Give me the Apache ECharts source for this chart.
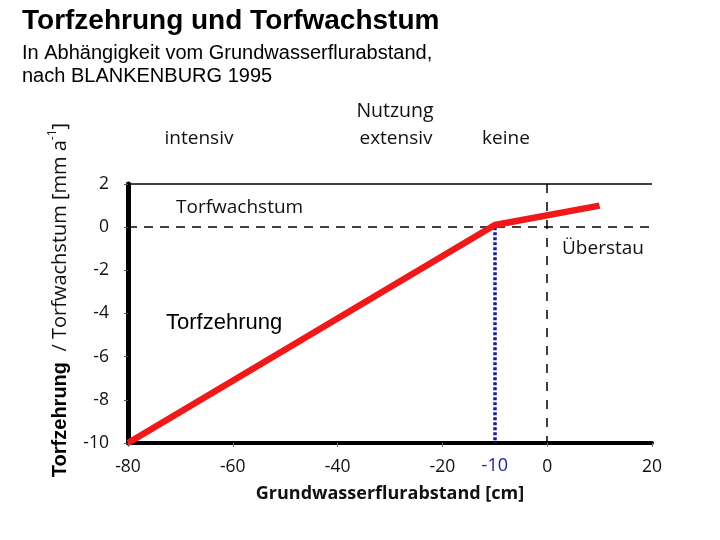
<!DOCTYPE html>
<html><head><meta charset="utf-8">
<script src="https://cdn.jsdelivr.net/npm/echarts@6/dist/echarts.min.js"></script>
<style>html,body{margin:0;padding:0;background:#fff}#c{width:720px;height:540px}</style>
</head><body><div id="c"></div>
<script>
// ---- data ----
const xRange = [-80, 20];
const yRange = [-10, 2];
const xInterval = 20;
const yInterval = 2;
const curveX = [-80, -10, 10];
const curveY = [-10, 0.1, 1];
const markerX = -10;          // blue dotted reference at -10 cm
const zeroLevel = 0;          // dashed horizontal at 0 mm/a
const topLevel = 2;           // solid horizontal at 2 mm/a
const surfaceX = 0;           // dashed vertical at 0 cm

const titleText = 'Torfzehrung und Torfwachstum';
const subLines = ['In Abhängigkeit vom Grundwasserflurabstand,', 'nach BLANKENBURG 1995'];
const xName = 'Grundwasserflurabstand [cm]';

const chart = echarts.init(document.getElementById('c'), null, {renderer: 'canvas'});
const sans = 'Open Sans';
const arial = 'Liberation Sans';

const option = {
  backgroundColor: '#fff',
  animation: false,
  grid: {left: 128, right: 68, top: 184, bottom: 97},
  xAxis: {
    type: 'value', min: xRange[0], max: xRange[1], interval: xInterval,
    axisLine: {show: true, onZero: false, lineStyle: {color: '#000', width: 4}},
    axisTick: {show: true, length: 4, lineStyle: {color: '#777', width: 1}},
    splitLine: {show: false},
    axisLabel: {margin: 15, fontSize: 17.5, fontFamily: sans, color: '#111'},
    name: xName, nameLocation: 'middle', nameGap: 42,
    nameTextStyle: {fontSize: 18, fontWeight: 'bold', fontFamily: sans, color: '#111'}
  },
  yAxis: {
    type: 'value', min: yRange[0], max: yRange[1], interval: yInterval,
    axisLine: {show: true, onZero: false, lineStyle: {color: '#000', width: 5}},
    axisTick: {show: true, length: 4, lineStyle: {color: '#555', width: 1}},
    splitLine: {show: false},
    axisLabel: {margin: 19, fontSize: 17.5, fontFamily: sans, color: '#111'}
  },
  series: [
    {
      type: 'line',
      data: curveX.map((x, i) => [x, curveY[i]]),
      symbol: 'none',
      lineStyle: {color: '#f01818', width: 6.5},
      z: 5,
      markLine: {
        silent: true, symbol: ['none', 'none'], animation: false,
        data: [
          [{coord: [xRange[0], topLevel], lineStyle: {color: '#000', width: 1.5, type: 'solid'}}, {coord: [xRange[1], topLevel]}],
          [{coord: [xRange[0], zeroLevel], lineStyle: {color: '#000', width: 1.5, type: [9, 7]}}, {coord: [xRange[1], zeroLevel]}],
          [{coord: [surfaceX, topLevel], lineStyle: {color: '#000', width: 1.5, type: [9, 9]}}, {coord: [surfaceX, yRange[0]]}],
          [{coord: [markerX, zeroLevel], lineStyle: {color: '#1a1aa8', width: 3.5, type: [3, 2]},
            label: {show: true, position: 'end', distance: 14, formatter: String(markerX), color: '#1a1aa8', fontSize: 18, fontFamily: sans}},
           {coord: [markerX, yRange[0]]}]
        ],
        label: {show: false}
      }
    }
  ],
  graphic: [
    {type: 'text', left: 22, top: 7, style: {text: titleText, font: 'bold 28px "Liberation Sans"', fill: '#000'}},
    {type: 'text', left: 22, top: 43, style: {text: subLines[0], font: '20px "Liberation Sans"', fill: '#000'}},
    {type: 'text', left: 22, top: 66, style: {text: subLines[1], font: '20px "Liberation Sans"', fill: '#000'}},
    {type: 'text', x: 395, y: 111, style: {text: 'Nutzung', font: '19.5px "Open Sans"', fill: '#111', textAlign: 'center', textVerticalAlign: 'middle'}},
    {type: 'text', x: 199, y: 139, style: {text: 'intensiv', font: '19px "Open Sans"', fill: '#111', textAlign: 'center', textVerticalAlign: 'middle'}},
    {type: 'text', x: 396, y: 139, style: {text: 'extensiv', font: '19px "Open Sans"', fill: '#111', textAlign: 'center', textVerticalAlign: 'middle'}},
    {type: 'text', x: 506, y: 139, style: {text: 'keine', font: '19px "Open Sans"', fill: '#111', textAlign: 'center', textVerticalAlign: 'middle'}},
    {type: 'text', x: 176, y: 208, style: {text: 'Torfwachstum', font: '19px "Open Sans"', fill: '#111', textAlign: 'left', textVerticalAlign: 'middle'}},
    {type: 'text', x: 562, y: 249, style: {text: 'Überstau', font: '19px "Open Sans"', fill: '#111', textAlign: 'left', textVerticalAlign: 'middle'}},
    {type: 'text', x: 166, y: 323, style: {text: 'Torfzehrung', font: '22px "Liberation Sans"', fill: '#000', textAlign: 'left', textVerticalAlign: 'middle'}},
    {type: 'text', x: 60, y: 300, rotation: Math.PI / 2,
      style: {
        text: '{a|Torfzehrung}{b|  / Torfwachstum [mm a}{s|-1}{b|]}',
        textAlign: 'center', textVerticalAlign: 'middle',
        rich: {
          a: {fontFamily: arial, fontWeight: 'bold', fontSize: 20, fill: '#000', color: '#000', lineHeight: 26},
          b: {fontFamily: sans, fontSize: 20, fill: '#111', color: '#111', lineHeight: 26},
          s: {fontFamily: sans, fontSize: 12, fill: '#111', color: '#111', lineHeight: 26, verticalAlign: 'top'}
        }
      }}
  ]
};
chart.setOption(option);
</script>
</body></html>
